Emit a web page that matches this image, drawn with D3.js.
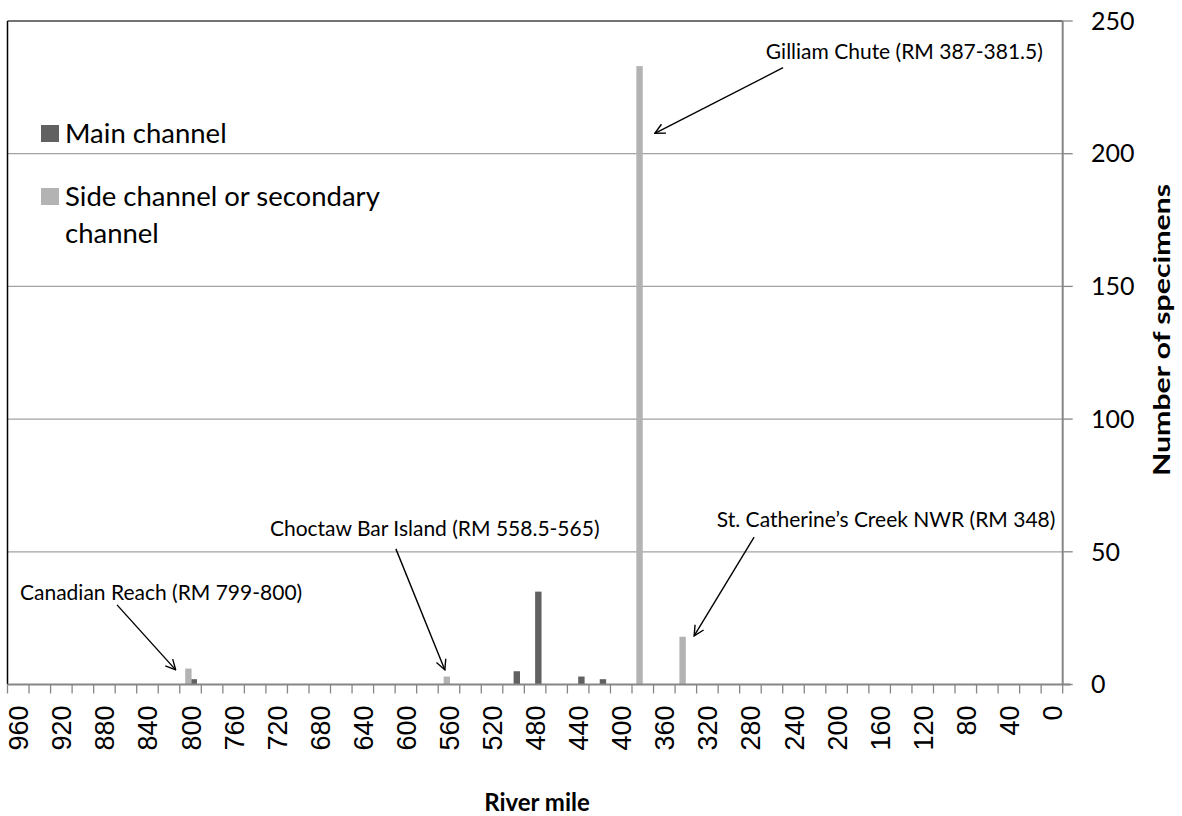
<!DOCTYPE html>
<html>
<head>
<meta charset="utf-8">
<script src="https://cdn.jsdelivr.net/npm/d3@7"></script>
<style>
  body { margin: 0; background: #fff; }
  svg { display: block; }
  text { font-family: Lato, "Open Sans", sans-serif; fill: #000; }
</style>
</head>
<body>
<div id="chart"></div>
<script>
// Series values (river mile, number of specimens)
const mainMiles  = [797, 497, 477, 437, 417];
const mainCounts = [2, 5, 35, 3, 2];
const sideMiles  = [802, 562, 383, 343];
const sideCounts = [6, 3, 233, 18];

const seriesNames = ["Main channel", "Side channel or secondary channel"];

// Axis ticks
const xLabelMiles = d3.range(960, -1, -40);
const xTickMiles  = d3.range(970, -11, -20);
const yTicks      = [0, 50, 100, 150, 200, 250];

// Annotations: text, label anchor, arrow start and arrow tip (in mile / count units)
const noteTexts  = ["Canadian Reach (RM 799-800)", "Choctaw Bar Island (RM 558.5-565)",
                    "Gilliam Chute (RM 387-381.5)", "St. Catherine\u2019s Creek NWR (RM 348)"];
const noteLabel  = [[958.4, 34.5], [726.3, 58.6], [265.7, 238.3], [311.2, 62.0]];
const noteStart  = [[868.3, 30.0], [609.3, 51.1], [249.7, 232.4], [276.6, 55.5]];
const noteTip    = [[813.8, 5.5], [563.8, 5.5], [368.8, 207.7], [332.3, 18.3]];

const width = 1182, height = 816;
const plotLeft = 7.5, plotRight = 1062.7, plotTop = 21, plotBottom = 684.5;
const darkColor = "#616161", lightColor = "#b3b3b3";
const barWidth = 6.4;

const svg = d3.select("#chart").append("svg")
    .attr("width", width)
    .attr("height", height);

const x = d3.scaleLinear().domain([970, -10]).range([plotLeft, plotRight]);
const y = d3.scaleLinear().domain([0, 250]).range([plotBottom, plotTop]);

svg.append("defs").append("marker")
    .attr("id", "arrow")
    .attr("viewBox", "0 0 12 12")
    .attr("refX", 11).attr("refY", 6)
    .attr("markerWidth", 12).attr("markerHeight", 12)
    .attr("markerUnits", "userSpaceOnUse")
    .attr("orient", "auto")
    .append("path")
    .attr("d", "M1,1 L11,6 L1,11")
    .attr("fill", "none")
    .attr("stroke", "#000")
    .attr("stroke-width", 1.4);

// gridlines
svg.append("g")
    .selectAll("line")
    .data(yTicks.filter(d => d > 0 && d < 250))
    .join("line")
    .attr("x1", plotLeft).attr("x2", plotRight)
    .attr("y1", d => y(d)).attr("y2", d => y(d))
    .attr("stroke", "#a2a2a2")
    .attr("stroke-width", 1.3);

// plot border (top and left)
svg.append("line")
    .attr("x1", plotLeft).attr("x2", plotRight)
    .attr("y1", y(250)).attr("y2", y(250))
    .attr("stroke", "#454545").attr("stroke-width", 1.5);
svg.append("line")
    .attr("x1", plotLeft).attr("x2", plotLeft)
    .attr("y1", plotTop).attr("y2", plotBottom)
    .attr("stroke", "#000").attr("stroke-width", 1.5);

// bars
function drawBars(miles, counts, color) {
    svg.append("g")
        .selectAll("rect")
        .data(miles.map((m, i) => ({ mile: m, count: counts[i] })))
        .join("rect")
        .attr("x", d => x(d.mile) - barWidth / 2)
        .attr("width", barWidth)
        .attr("y", d => y(d.count))
        .attr("height", d => y(0) - y(d.count))
        .attr("fill", color);
}
drawBars(mainMiles, mainCounts, darkColor);
drawBars(sideMiles, sideCounts, lightColor);

// x axis
const xAxis = svg.append("g").attr("transform", `translate(0,${plotBottom})`);
xAxis.append("line")
    .attr("x1", plotLeft).attr("x2", plotRight + 8)
    .attr("stroke", "#868686").attr("stroke-width", 2);
xAxis.selectAll(".tick")
    .data(xTickMiles)
    .join("line")
    .attr("class", "tick")
    .attr("x1", d => x(d)).attr("x2", d => x(d))
    .attr("y1", 0).attr("y2", 9)
    .attr("stroke", "#868686").attr("stroke-width", 1.3);
xAxis.selectAll(".lab")
    .data(xLabelMiles)
    .join("text")
    .attr("class", "lab")
    .attr("transform", d => `translate(${x(d) + 10},21) rotate(-90)`)
    .attr("text-anchor", "end")
    .style("font-family", "'Liberation Sans', Arial, sans-serif")
    .style("font-size", "27px")
    .text(d => d);

svg.append("text")
    .attr("x", 537).attr("y", 811)
    .attr("text-anchor", "middle")
    .style("font-weight", "bold")
    .style("font-size", "24px")
    .text("River mile");

// y axis on the right
const yAxis = svg.append("g");
yAxis.append("line")
    .attr("x1", plotRight).attr("x2", plotRight)
    .attr("y1", plotTop).attr("y2", plotBottom)
    .attr("stroke", "#868686").attr("stroke-width", 2);
yAxis.selectAll(".tick")
    .data(yTicks)
    .join("line")
    .attr("class", "tick")
    .attr("x1", plotRight).attr("x2", plotRight + 10)
    .attr("y1", d => y(d)).attr("y2", d => y(d))
    .attr("stroke", "#868686").attr("stroke-width", 1.3);
yAxis.selectAll(".lab")
    .data(yTicks)
    .join("text")
    .attr("class", "lab")
    .attr("x", 1091)
    .attr("y", d => y(d))
    .attr("dy", "0.35em")
    .style("font-size", "25px")
    .text(d => d);

svg.append("text")
    .attr("transform", "translate(1170,330) rotate(-90)")
    .attr("text-anchor", "middle")
    .attr("textLength", 292)
    .attr("lengthAdjust", "spacingAndGlyphs")
    .style("font-weight", "bold")
    .style("font-size", "22px")
    .text("Number of specimens");

// legend
const legend = svg.append("g");
const legendRows = [
    { name: seriesNames[0], color: darkColor, lines: ["Main channel"], y: 133 },
    { name: seriesNames[1], color: lightColor, lines: ["Side channel or secondary", "channel"], y: 196 }
];
legendRows.forEach(r => {
    legend.append("rect")
        .attr("x", 41).attr("y", r.y - 8)
        .attr("width", 18).attr("height", 17)
        .attr("fill", r.color);
    r.lines.forEach((t, i) => {
        legend.append("text")
            .attr("x", 65).attr("y", r.y + i * 37)
            .attr("dy", "0.35em")
            .style("font-size", "27.5px")
            .text(t);
    });
});

// annotations
const notes = svg.append("g");
noteTexts.forEach((t, i) => {
    notes.append("text")
        .attr("x", x(noteLabel[i][0]))
        .attr("y", y(noteLabel[i][1]))
        .attr("dy", "0.35em")
        .style("font-size", "21px")
        .text(t);
    notes.append("line")
        .attr("x1", x(noteStart[i][0])).attr("y1", y(noteStart[i][1]))
        .attr("x2", x(noteTip[i][0])).attr("y2", y(noteTip[i][1]))
        .attr("stroke", "#000")
        .attr("stroke-width", 1.4)
        .attr("marker-end", "url(#arrow)");
});
</script>
</body>
</html>
